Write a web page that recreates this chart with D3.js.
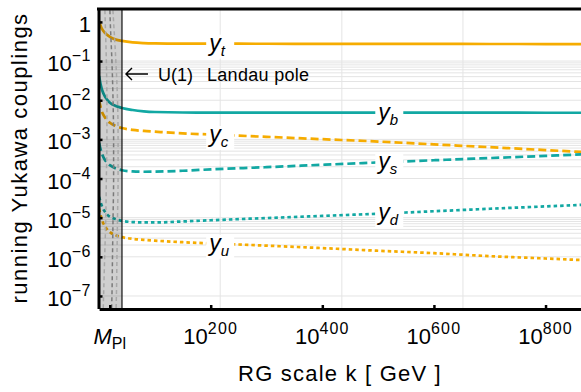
<!DOCTYPE html>
<html>
<head>
<meta charset="utf-8">
<script src="https://cdn.jsdelivr.net/npm/d3@7"></script>
<style>
  body { margin: 0; background: #fff; }
  svg { display: block; font-family: "Liberation Sans", Arial, sans-serif; }
</style>
</head>
<body>
<div id="chart"></div>
<script>
// log10 of RG scale k in GeV
const kLog = [0, 3, 6, 10, 15, 20, 30, 41, 60, 80, 100, 150, 200, 300, 400, 500, 600, 700, 800, 880];

const yt = [1.05, 0.78, 0.636, 0.533, 0.461, 0.410, 0.353, 0.327, 0.300, 0.288, 0.283, 0.279, 0.278, 0.277, 0.276, 0.275, 0.274, 0.273, 0.272, 0.271];
const yb = [0.0414, 0.0244, 0.0172, 0.0128, 0.0101, 0.00849, 0.00712, 0.00633, 0.00563, 0.00521, 0.00500, 0.00485, 0.00484, 0.00483, 0.00482, 0.00481, 0.00480, 0.00480, 0.00479, 0.00479];
const yc = [0.0101, 0.00633, 0.00471, 0.00372, 0.00303, 0.00262, 0.00220, 0.00195, 0.00174, 0.00164, 0.00157, 0.00142, 0.00133, 0.00116, 0.00101, 0.000880, 0.000745, 0.000632, 0.000533, 0.000463];
const ys = [0.000809, 0.000537, 0.000400, 0.000307, 0.000250, 0.000216, 0.000181, 0.000163, 0.000152, 0.000149, 0.000150, 0.000158, 0.000171, 0.000195, 0.000224, 0.000257, 0.000293, 0.000333, 0.000379, 0.000422];
const yd = [3.40e-5, 2.39e-5, 1.83e-5, 1.45e-5, 1.18e-5, 1.05e-5, 9.05e-6, 8.28e-6, 7.72e-6, 7.55e-6, 7.55e-6, 8.00e-6, 8.59e-6, 9.77e-6, 1.11e-5, 1.26e-5, 1.46e-5, 1.69e-5, 1.94e-5, 2.17e-5];
const yu = [1.68e-5, 1.11e-5, 8.05e-6, 6.18e-6, 4.89e-6, 4.22e-6, 3.54e-6, 3.18e-6, 2.88e-6, 2.72e-6, 2.59e-6, 2.36e-6, 2.20e-6, 1.93e-6, 1.67e-6, 1.43e-6, 1.24e-6, 1.04e-6, 9.06e-7, 8.09e-7];

const seriesNames = ["t", "b", "c", "s", "d", "u"];
const labelK = [217, 520, 217, 520, 520, 217];

// curves inside the shaded region (log10 k at given coupling values)
const poleY = [3, 1, 1e-1, 1e-2, 1e-3, 1e-4, 1e-5, 1e-6, 1e-7, 3e-8];
const poleA = [10, 11, 13, 14, 14, 13, 12, 10, 8, 7];
const poleB = [19, 20, 23, 25, 26, 26, 25, 24, 23, 22];
const poleC = [24, 26, 30, 33, 34, 34, 33, 32, 31, 30];

const landauK = 41;
const mPlK = 19.09;
const xTicks = [mPlK, 200, 400, 600, 800];
const yTicks = [1, 1e-1, 1e-2, 1e-3, 1e-4, 1e-5, 1e-6, 1e-7];
const gridK = [217, 435, 652];
const minorDecades = [-2, -4, -6];

const width = 581, height = 392;
const orange = "#f6ac00", teal = "#12a8a3";

const x = d3.scaleLinear().domain([0, 870]).range([99.1, 584.6]);
const y = d3.scaleLog().domain([Math.pow(10, 0.33), Math.pow(10, -7.32)]).range([9, 308.5]);

const svg = d3.select("#chart").append("svg")
  .attr("width", width).attr("height", height);

svg.append("defs").append("clipPath").attr("id", "plot")
  .append("rect").attr("x", 98.5).attr("y", 9).attr("width", width - 98.5).attr("height", 300);

const plot = svg.append("g").attr("clip-path", "url(#plot)");

// grid
const gridVals = [];
minorDecades.forEach(d => { for (let m = 2; m <= 9; m++) gridVals.push(m * Math.pow(10, d)); });
yTicks.slice(1).forEach(v => gridVals.push(v));

plot.selectAll(".hgrid").data(gridVals).enter().append("line")
  .attr("x1", 98).attr("x2", width)
  .attr("y1", d => y(d)).attr("y2", d => y(d))
  .attr("stroke", "#e4e4e4").attr("stroke-width", 1);

plot.selectAll(".vgrid").data(gridK).enter().append("line")
  .attr("x1", d => x(d)).attr("x2", d => x(d))
  .attr("y1", 9).attr("y2", 309)
  .attr("stroke", "#e4e4e4").attr("stroke-width", 1);

// curves
const series = [
  { name: "t", values: yt, color: orange, dash: null },
  { name: "b", values: yb, color: teal, dash: null },
  { name: "c", values: yc, color: orange, dash: "8,4" },
  { name: "s", values: ys, color: teal, dash: "8,4" },
  { name: "d", values: yd, color: teal, dash: "3.5,3" },
  { name: "u", values: yu, color: orange, dash: "3.5,3" }
];

const line = d3.line()
  .x(d => x(d[0])).y(d => y(d[1]))
  .curve(d3.curveMonotoneX);

series.forEach(s => {
  plot.append("path")
    .attr("d", line(kLog.map((k, i) => [k, s.values[i]])))
    .attr("fill", "none")
    .attr("stroke", s.color)
    .attr("stroke-width", 2.7)
    .attr("stroke-dasharray", s.dash);
});

// curve labels
const interp = (vals, k) => {
  const i = d3.bisectRight(kLog, k) - 1;
  const t = (k - kLog[i]) / (kLog[i + 1] - kLog[i]);
  return Math.exp(Math.log(vals[i]) * (1 - t) + Math.log(vals[i + 1]) * t);
};

series.forEach(s => {
  const k = labelK[seriesNames.indexOf(s.name)];
  const cx = x(k), cy = y(interp(s.values, k));
  plot.append("rect")
    .attr("x", cx - 14).attr("y", cy - 9)
    .attr("width", 28).attr("height", 24)
    .attr("fill", "#fff");
  const t = plot.append("text")
    .attr("x", cx - 11).attr("y", cy + 7)
    .attr("font-size", 23).attr("font-style", "italic");
  t.append("tspan").text("y");
  t.append("tspan").attr("dy", 5).attr("font-size", 15).text(s.name);
});

// shaded region beyond the Landau pole
plot.append("rect")
  .attr("x", 98.5).attr("y", 9)
  .attr("width", x(landauK) - 98.5).attr("height", 300)
  .attr("fill", "#000").attr("fill-opacity", 0.19);

const poleLine = d3.line().x(d => x(d[0])).y(d => y(d[1])).curve(d3.curveMonotoneY);
[[poleA, "#a8a8a8"], [poleB, "#7a7a7a"], [poleC, "#a8a8a8"]].forEach(([ks, c]) => {
  plot.append("path")
    .attr("d", poleLine(ks.map((k, i) => [k, poleY[i]])))
    .attr("fill", "none").attr("stroke", c)
    .attr("stroke-width", 1.5).attr("stroke-dasharray", "4,3");
});

plot.append("line")
  .attr("x1", x(landauK)).attr("x2", x(landauK))
  .attr("y1", 9).attr("y2", 309)
  .attr("stroke", "#111").attr("stroke-width", 1.2);

// frame and axes
const xAxis = svg.append("g").attr("transform", "translate(0,309)")
  .call(d3.axisBottom(x).tickValues(xTicks).tickSize(-4).tickSizeOuter(0).tickFormat(""));
const yAxis = svg.append("g").attr("transform", "translate(98.5,0)")
  .call(d3.axisLeft(y).tickValues(yTicks).tickSize(-4).tickSizeOuter(0).tickFormat(""));
svg.append("line").attr("x1", 97).attr("x2", width).attr("y1", 9).attr("y2", 9)
  .attr("stroke", "#000").attr("stroke-width", 3);

[xAxis, yAxis].forEach(a => {
  a.select(".domain").attr("stroke-width", 3);
  a.selectAll(".tick line").attr("stroke-width", 2.5);
});

// y tick labels
yTicks.forEach(v => {
  const e = Math.round(Math.log10(v));
  const t = svg.append("text")
    .attr("x", 91).attr("y", y(v) + 10)
    .attr("text-anchor", "end").attr("font-size", 22);
  if (e === 0) { t.text("1"); return; }
  t.append("tspan").text("10");
  t.append("tspan").attr("dy", -10).attr("font-size", 16).attr("letter-spacing", 0.5).text("\u2212" + (-e));
});

// x tick labels
xTicks.forEach((k, i) => {
  const t = svg.append("text")
    .attr("x", x(k)).attr("y", 344)
    .attr("text-anchor", "middle").attr("font-size", 22);
  if (i === 0) {
    t.append("tspan").attr("font-style", "italic").text("M");
    t.append("tspan").attr("dy", 5).attr("font-size", 16).text("Pl");
  } else {
    t.append("tspan").text("10");
    t.append("tspan").attr("dy", -10).attr("font-size", 16).attr("letter-spacing", 1.2).text(k);
  }
});

// axis titles
svg.append("text")
  .attr("x", 340).attr("y", 381)
  .attr("text-anchor", "middle").attr("font-size", 22).attr("letter-spacing", 1.2)
  .text("RG scale k [ GeV ]");

svg.append("text")
  .attr("transform", "translate(27,158) rotate(-90)")
  .attr("text-anchor", "middle").attr("font-size", 22).attr("letter-spacing", 1.5)
  .text("running Yukawa couplings");

// Landau pole annotation
const ax = x(landauK) + 4, ay = 74;
svg.append("path")
  .attr("d", `M${ax + 22},${ay}H${ax}M${ax + 6},${ay - 6}L${ax},${ay}L${ax + 6},${ay + 6}`)
  .attr("fill", "none").attr("stroke", "#000").attr("stroke-width", 1.4);
svg.append("text").attr("x", ax + 32).attr("y", ay + 7).attr("font-size", 18).text("U(1)");
svg.append("text").attr("x", ax + 81).attr("y", ay + 7).attr("font-size", 18)
  .attr("letter-spacing", 0.3).text("Landau pole");
</script>
</body>
</html>
